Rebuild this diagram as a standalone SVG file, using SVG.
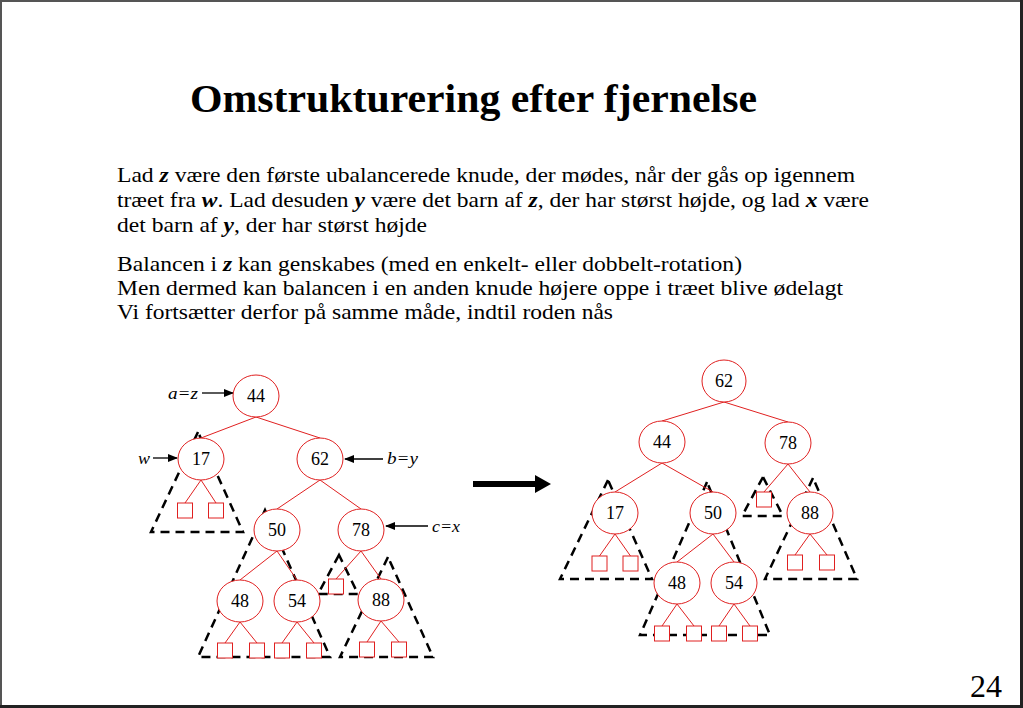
<svg xmlns="http://www.w3.org/2000/svg" width="1023" height="708" viewBox="0 0 1023 708">
<style>
.t{font-family:"Liberation Serif","Times New Roman",serif;fill:#000}
.body{font-size:22px}
.v{font-weight:bold;font-style:italic}
.lab{font-size:17px;font-style:italic}
.num{font-size:18px;text-anchor:middle}
.edge{stroke:#e02020;stroke-width:1;fill:none}
.node ellipse{fill:#fff;stroke:#e02020;stroke-width:1}
.leaf{fill:#fff;stroke:#e02020;stroke-width:1}
.tri{fill:none;stroke:#000;stroke-width:2.5;stroke-dasharray:9,6}
.arr{stroke:#000;stroke-width:1.3;fill:none;marker-end:url(#ah)}
</style>
<defs>
<marker id="ah" markerWidth="10" markerHeight="8" refX="9" refY="4" orient="auto" markerUnits="userSpaceOnUse">
<path d="M0,0 L10,4 L0,8 Z" fill="#000"/>
</marker>
</defs>
<rect x="0" y="0" width="1023" height="708" fill="#fff"/>
<path d="M1,708 V1 H1023" stroke="#555" stroke-width="2" fill="none"/>
<path d="M0,706.5 H1021.5 V0" stroke="#222" stroke-width="3" fill="none"/>

<text class="t" x="190" y="112" font-size="39" font-weight="bold" textLength="567" lengthAdjust="spacingAndGlyphs">Omstrukturering efter fjernelse</text>

<g id="text">
<text class="t body" x="117" y="182" textLength="738" lengthAdjust="spacingAndGlyphs">Lad <tspan class="v">z</tspan> være den første ubalancerede knude, der mødes, når der gås op igennem</text>
<text class="t body" x="117" y="207" textLength="752" lengthAdjust="spacingAndGlyphs">træet fra <tspan class="v">w</tspan>. Lad desuden <tspan class="v">y</tspan> være det barn af <tspan class="v">z</tspan>, der har størst højde, og lad <tspan class="v">x</tspan> være</text>
<text class="t body" x="117" y="232" textLength="310" lengthAdjust="spacingAndGlyphs">det barn af <tspan class="v">y</tspan>, der har størst højde</text>
<text class="t body" x="117" y="271" textLength="625" lengthAdjust="spacingAndGlyphs">Balancen i <tspan class="v">z</tspan> kan genskabes (med en enkelt- eller dobbelt-rotation)</text>
<text class="t body" x="117" y="295" textLength="726" lengthAdjust="spacingAndGlyphs">Men dermed kan balancen i en anden knude højere oppe i træet blive ødelagt</text>
<text class="t body" x="117" y="319" textLength="496" lengthAdjust="spacingAndGlyphs">Vi fortsætter derfor på samme måde, indtil roden nås</text>
</g>

<g id="subtrees">
<polygon class="tri" points="198,432 151,532 243,532"/>
<polygon class="tri" points="265,510 198,657 330,657"/>
<polygon class="tri" points="339,555 318,594 358,594"/>
<polygon class="tri" points="388,557 340,657 433,657"/>
<polygon class="tri" points="608,480 560,579 652,579"/>
<polygon class="tri" points="707,482 640,635 770,635"/>
<polygon class="tri" points="763,477 742,516 783,516"/>
<polygon class="tri" points="813,478 765,579 857,579"/>
</g>

<g id="connectors">
<line class="edge" x1="256" y1="417" x2="201" y2="438"/>
<line class="edge" x1="256" y1="417" x2="320" y2="438"/>
<line class="edge" x1="201" y1="480" x2="185" y2="503"/>
<line class="edge" x1="201" y1="480" x2="216" y2="503"/>
<line class="edge" x1="320" y1="480" x2="277" y2="509"/>
<line class="edge" x1="320" y1="480" x2="361" y2="509"/>
<line class="edge" x1="277" y1="551" x2="240" y2="580"/>
<line class="edge" x1="277" y1="551" x2="297" y2="580"/>
<line class="edge" x1="361" y1="551" x2="336" y2="579"/>
<line class="edge" x1="361" y1="551" x2="381" y2="579"/>
<line class="edge" x1="240" y1="622" x2="225" y2="643"/>
<line class="edge" x1="240" y1="622" x2="257" y2="643"/>
<line class="edge" x1="297" y1="622" x2="282" y2="643"/>
<line class="edge" x1="297" y1="622" x2="314" y2="643"/>
<line class="edge" x1="381" y1="621" x2="367" y2="642"/>
<line class="edge" x1="381" y1="621" x2="399" y2="642"/>

<line class="edge" x1="724" y1="402" x2="662" y2="421"/>
<line class="edge" x1="724" y1="402" x2="788" y2="422"/>
<line class="edge" x1="662" y1="463" x2="615" y2="492"/>
<line class="edge" x1="662" y1="463" x2="713" y2="492"/>
<line class="edge" x1="788" y1="464" x2="764" y2="492"/>
<line class="edge" x1="788" y1="464" x2="810" y2="492"/>
<line class="edge" x1="615" y1="534" x2="599.5" y2="556"/>
<line class="edge" x1="615" y1="534" x2="630.5" y2="556"/>
<line class="edge" x1="713" y1="534" x2="677" y2="562"/>
<line class="edge" x1="713" y1="534" x2="734" y2="562"/>
<line class="edge" x1="810" y1="534" x2="795" y2="555"/>
<line class="edge" x1="810" y1="534" x2="827" y2="555"/>
<line class="edge" x1="677" y1="604" x2="662" y2="626"/>
<line class="edge" x1="677" y1="604" x2="694" y2="626"/>
<line class="edge" x1="734" y1="604" x2="719" y2="626"/>
<line class="edge" x1="734" y1="604" x2="750" y2="626"/>

<line class="arr" x1="202" y1="393" x2="233" y2="393"/>
<line class="arr" x1="153" y1="458" x2="177" y2="458"/>
<line class="arr" x1="383" y1="459" x2="345" y2="459"/>
<line class="arr" x1="428" y1="526" x2="386" y2="526"/>
<path d="M473,481 H535 V475 L551,484 L535,493 V487 H473 Z" fill="#000"/>
</g>

<g id="leaves">
<rect class="leaf" x="177.5" y="503" width="15" height="15"/>
<rect class="leaf" x="208.5" y="503" width="15" height="15"/>
<rect class="leaf" x="328.5" y="579" width="15" height="15"/>
<rect class="leaf" x="217.5" y="643" width="15" height="15"/>
<rect class="leaf" x="249.5" y="643" width="15" height="15"/>
<rect class="leaf" x="274.5" y="643" width="15" height="15"/>
<rect class="leaf" x="306.5" y="643" width="15" height="15"/>
<rect class="leaf" x="359.5" y="642" width="15" height="15"/>
<rect class="leaf" x="391.5" y="642" width="15" height="15"/>
<rect class="leaf" x="592" y="556" width="15" height="15"/>
<rect class="leaf" x="623" y="556" width="15" height="15"/>
<rect class="leaf" x="756.5" y="492" width="15" height="15"/>
<rect class="leaf" x="787.5" y="555" width="15" height="15"/>
<rect class="leaf" x="819.5" y="555" width="15" height="15"/>
<rect class="leaf" x="654.5" y="626" width="15" height="15"/>
<rect class="leaf" x="686.5" y="626" width="15" height="15"/>
<rect class="leaf" x="711.5" y="626" width="15" height="15"/>
<rect class="leaf" x="742.5" y="626" width="15" height="15"/>
</g>

<g id="n44a" class="node"><ellipse cx="256" cy="396" rx="23" ry="21"/><text class="t num" x="256" y="402">44</text></g>
<g id="n17a" class="node"><ellipse cx="201" cy="459" rx="23" ry="21"/><text class="t num" x="201" y="465">17</text></g>
<g id="n62a" class="node"><ellipse cx="320" cy="459" rx="23" ry="21"/><text class="t num" x="320" y="465">62</text></g>
<g id="n50a" class="node"><ellipse cx="277" cy="530" rx="23" ry="21"/><text class="t num" x="277" y="536">50</text></g>
<g id="n78a" class="node"><ellipse cx="361" cy="530" rx="23" ry="21"/><text class="t num" x="361" y="536">78</text></g>
<g id="n48a" class="node"><ellipse cx="240" cy="601" rx="23" ry="21"/><text class="t num" x="240" y="607">48</text></g>
<g id="n54a" class="node"><ellipse cx="297" cy="601" rx="23" ry="21"/><text class="t num" x="297" y="607">54</text></g>
<g id="n88a" class="node"><ellipse cx="381" cy="600" rx="23" ry="21"/><text class="t num" x="381" y="606">88</text></g>

<g id="n62b" class="node"><ellipse cx="724" cy="381" rx="22" ry="21"/><text class="t num" x="724" y="387">62</text></g>
<g id="n44b" class="node"><ellipse cx="662" cy="442" rx="23" ry="21"/><text class="t num" x="662" y="448">44</text></g>
<g id="n78b" class="node"><ellipse cx="788" cy="443" rx="23" ry="21"/><text class="t num" x="788" y="449">78</text></g>
<g id="n17b" class="node"><ellipse cx="615" cy="513" rx="23" ry="21"/><text class="t num" x="615" y="519">17</text></g>
<g id="n50b" class="node"><ellipse cx="713" cy="513" rx="23" ry="21"/><text class="t num" x="713" y="519">50</text></g>
<g id="n88b" class="node"><ellipse cx="810" cy="513" rx="23" ry="21"/><text class="t num" x="810" y="519">88</text></g>
<g id="n48b" class="node"><ellipse cx="677" cy="583" rx="23" ry="21"/><text class="t num" x="677" y="589">48</text></g>
<g id="n54b" class="node"><ellipse cx="734" cy="583" rx="23" ry="21"/><text class="t num" x="734" y="589">54</text></g>

<g id="labels">
<text class="t lab" x="168" y="399" textLength="30" lengthAdjust="spacingAndGlyphs">a=z</text>
<text class="t lab" x="138" y="464" textLength="12" lengthAdjust="spacingAndGlyphs">w</text>
<text class="t lab" x="387" y="464" textLength="31" lengthAdjust="spacingAndGlyphs">b=y</text>
<text class="t lab" x="432" y="532" textLength="28" lengthAdjust="spacingAndGlyphs">c=x</text>
</g>

<text class="t" x="970" y="697" font-size="32">24</text>
</svg>
